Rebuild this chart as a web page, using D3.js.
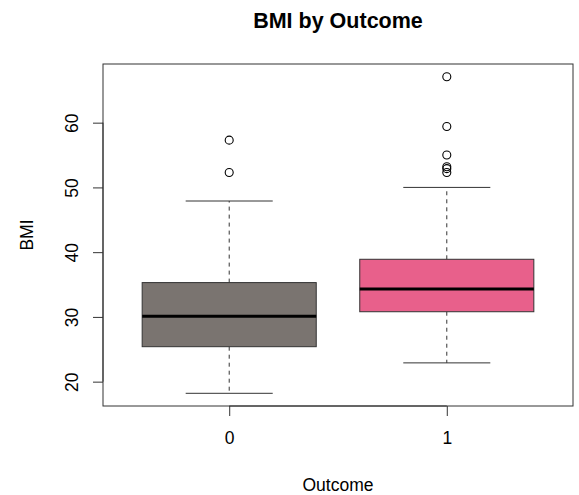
<!DOCTYPE html>
<html>
<head>
<meta charset="utf-8">
<script src="https://cdn.jsdelivr.net/npm/d3@7"></script>
<style>
  body { margin: 0; background: #fff; }
  text { font-family: "Liberation Sans", Arial, sans-serif; fill: #000; }
</style>
</head>
<body>
<svg id="chart" width="579" height="495"></svg>
<script>
// groups and summary stats
let groups = ['0', '1'];
let lowWhisker = [18.2, 22.9];
let q1 = [25.4, 30.8];
let medians = [30.1, 34.3];
let q3 = [35.3, 38.9];
let highWhisker = [47.9, 50.0];
let outliers = [[57.3, 52.3], [67.1, 59.4, 55.0, 53.2, 52.9, 52.3]];
let fills = ['#7a7470', '#e8608b'];
let yTicks = [20, 30, 40, 50, 60];

let svg = d3.select('#chart');
let mLeft = 103, mRight = 573, mTop = 64, mBottom = 406;
let labelSize = 17.5;

let x = d3.scaleLinear().domain([0.42, 2.58]).range([mLeft, mRight]);
let y = d3.scaleLinear().domain([16.24, 69.06]).range([mBottom, mTop]);

let boxes = groups.map((g, i) => ({
  g: g, i: i + 1, lo: lowWhisker[i], q1: q1[i], med: medians[i], q3: q3[i], hi: highWhisker[i],
  out: outliers[i], fill: fills[i]
}));

let bw = 0.4, cw = 0.2;

let gBox = svg.append('g');
boxes.forEach(d => {
  // dashed whiskers
  gBox.append('line')
    .attr('x1', x(d.i)).attr('x2', x(d.i))
    .attr('y1', y(d.q3)).attr('y2', y(d.hi))
    .attr('stroke', '#333').attr('stroke-dasharray', '4,4');
  gBox.append('line')
    .attr('x1', x(d.i)).attr('x2', x(d.i))
    .attr('y1', y(d.q1)).attr('y2', y(d.lo))
    .attr('stroke', '#333').attr('stroke-dasharray', '4,4');
  // caps
  [d.lo, d.hi].forEach(v => {
    gBox.append('line')
      .attr('x1', x(d.i - cw)).attr('x2', x(d.i + cw))
      .attr('y1', y(v)).attr('y2', y(v))
      .attr('stroke', '#333');
  });
  gBox.append('rect')
    .attr('x', x(d.i - bw)).attr('width', x(d.i + bw) - x(d.i - bw))
    .attr('y', y(d.q3)).attr('height', y(d.q1) - y(d.q3))
    .attr('fill', d.fill).attr('stroke', '#333');
  gBox.append('line')
    .attr('x1', x(d.i - bw)).attr('x2', x(d.i + bw))
    .attr('y1', y(d.med)).attr('y2', y(d.med))
    .attr('stroke', '#000').attr('stroke-width', 3);
  gBox.selectAll(null)
    .data(d.out)
    .join('circle')
    .attr('cx', x(d.i)).attr('cy', v => y(v)).attr('r', 4)
    .attr('fill', 'none').attr('stroke', '#000').attr('stroke-width', 1.1);
});

// frame
svg.append('rect')
  .attr('x', mLeft).attr('y', mTop)
  .attr('width', mRight - mLeft).attr('height', mBottom - mTop)
  .attr('fill', 'none').attr('stroke', '#333');

// axes
let yAxis = d3.axisLeft(y).tickValues(yTicks).tickSize(10);
let ga = svg.append('g').attr('transform', `translate(${mLeft},0)`).call(yAxis);
ga.select('.domain').attr('d', `M0,${y(20)}V${y(60)}`).attr('stroke', '#333');
ga.selectAll('.tick line').attr('stroke', '#333');
ga.selectAll('.tick text')
  .attr('font-size', labelSize).attr('font-family', 'Liberation Sans, Arial, sans-serif')
  .attr('fill', '#000')
  .attr('text-anchor', 'middle')
  .attr('x', 0).attr('y', -31).attr('dy', '0.35em')
  .attr('transform', 'rotate(-90)');

let xAxis = d3.axisBottom(x).tickValues([1, 2]).tickFormat((d, i) => groups[i]).tickSize(10).tickPadding(16);
let gx = svg.append('g').attr('transform', `translate(0,${mBottom})`).call(xAxis);
gx.select('.domain').attr('d', `M${x(1)},0H${x(2)}`).attr('stroke', '#333');
gx.selectAll('.tick line').attr('stroke', '#333');
gx.selectAll('.tick text')
  .attr('font-size', labelSize).attr('font-family', 'Liberation Sans, Arial, sans-serif')
  .attr('fill', '#000');

// titles
svg.append('text')
  .attr('x', (mLeft + mRight) / 2).attr('y', 28)
  .attr('text-anchor', 'middle')
  .attr('font-weight', 'bold').attr('font-size', 21.5)
  .text('BMI by Outcome');

svg.append('text')
  .attr('x', (mLeft + mRight) / 2).attr('y', 491)
  .attr('text-anchor', 'middle')
  .attr('font-size', labelSize)
  .text('Outcome');

svg.append('text')
  .attr('transform', `translate(33,${(mTop + mBottom) / 2}) rotate(-90)`)
  .attr('text-anchor', 'middle')
  .attr('font-size', labelSize)
  .text('BMI');
</script>
</body>
</html>
